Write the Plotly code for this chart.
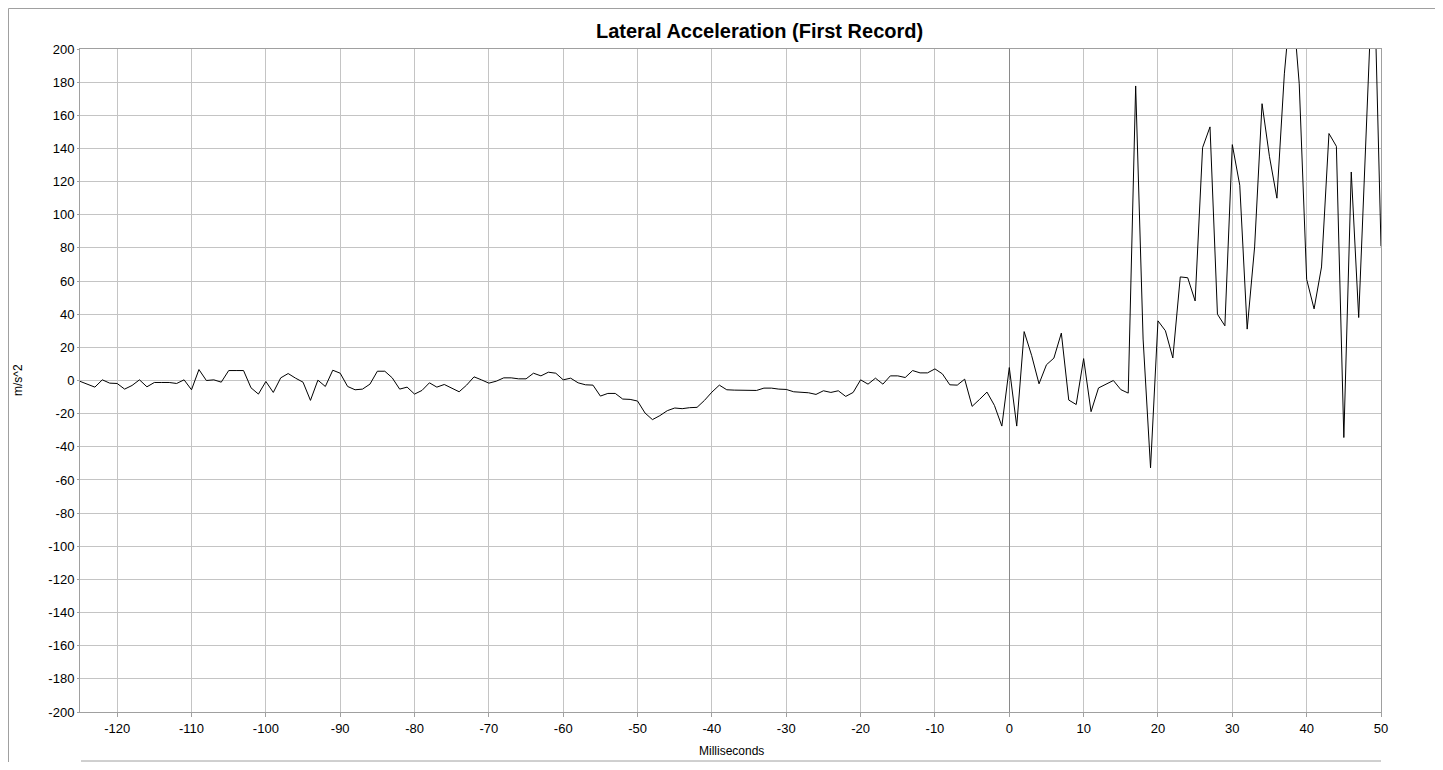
import plotly.graph_objects as go

# Time in milliseconds (1 ms sampling)
time_ms = list(range(-125, 51))

# Lateral acceleration (m/s^2)
accel = [
    -0.5, -2.4, -4, 0.4, -1.6, -1.8, -5.2, -3, 0.4, -3.8,
    -1.2, -1.2, -1.2, -1.8, 0.4, -5.6, 6.6, 0, 0.4, -1,
    6, 6, 6, -4.4, -8.2, -0.6, -7.2, 1.6, 4.2, 1.4,
    -1, -12, 0.2, -3.6, 6.2, 4.4, -3.6, -5.6, -5.2, -2.2,
    5.6, 5.6, 1.6, -5.2, -4, -8.2, -6, -1.4, -4, -2.4,
    -4.6, -6.8, -2.8, 2.2, 0.4, -1.6, -0.4, 1.6, 1.6, 1,
    1, 4.4, 2.8, 5, 4.4, 0.4, 1.4, -1.4, -2.6, -2.8,
    -9.4, -7.8, -7.8, -11.2, -11.4, -12.4, -19.6, -23.6, -21.2, -18.2,
    -16.6, -17, -16.4, -16.2, -12, -7, -2.8, -5.6, -5.8, -6,
    -5.8, -6, -4.6, -4.6, -5.2, -5.4, -6.8, -7, -7.4, -8.4,
    -6.2, -7.2, -6.2, -9.6, -7.2, 0.4, -2.2, 1.4, -2.2, 2.8,
    2.8, 1.8, 6, 4.6, 4.6, 7, 4, -2.6, -2.8, 0.8,
    -15.6, -11.4, -7, -15, -27.5, 7.8, -27.5, 29.5, 15.2, -2,
    9.5, 13.5, 28.6, -11.8, -14.5, 13.2, -18.8, -4.5, -2, 0,
    -5.5, -7.6, 177.7, 25, -52.7, 36, 30, 13.6, 62.5, 62,
    48, 140.5, 153, 40, 33, 142.3, 117.8, 31, 80.6, 167,
    135, 110, 185, 235, 179, 61, 43.2, 68.5, 149, 141.3,
    -34.4, 125.8, 38, 160, 260, 81,
]

# Tick labels (plain hyphen minus, as in the reference)
x_ticks = [-120, -110, -100, -90, -80, -70, -60, -50, -40, -30, -20, -10, 0, 10, 20, 30, 40, 50]
x_tick_labels = ["-120", "-110", "-100", "-90", "-80", "-70", "-60", "-50", "-40", "-30",
                 "-20", "-10", "0", "10", "20", "30", "40", "50"]
y_ticks = [200, 180, 160, 140, 120, 100, 80, 60, 40, 20, 0,
           -20, -40, -60, -80, -100, -120, -140, -160, -180, -200]
y_tick_labels = ["200", "180", "160", "140", "120", "100", "80", "60", "40", "20", "0",
                 "-20", "-40", "-60", "-80", "-100", "-120", "-140", "-160", "-180", "-200"]

title_text = "Lateral Acceleration (First Record)"
x_label = "Milliseconds"
y_label = "m/s^2"

OFF = 8  # page offset of the figure inside the browser window
W, H = 1443 - OFF, 770 - 2 * OFF
L, R, T = 80 - OFF, 62, 49 - OFF
B = H + OFF - 712
PW, PH = W - L - R, H - T - B


def px(x):
    return (x - OFF - L) / PW


def py(y):
    return (H - B - (y - OFF)) / PH


fig = go.Figure()
fig.add_trace(go.Scatter(
    x=time_ms, y=accel, mode="lines",
    line=dict(color="black", width=1),
    showlegend=False,
))

grid = "#c4c4c4"
axisline = "#a0a0a0"
font = "Liberation Sans, Arial, sans-serif"

fig.update_layout(
    width=W, height=H,
    margin=dict(l=L, r=R, t=T, b=B),
    paper_bgcolor="white", plot_bgcolor="white",
    font=dict(family=font, size=13, color="black"),
    xaxis=dict(
        range=[-125, 50], tickmode="array", tickvals=x_ticks, ticktext=x_tick_labels,
        showgrid=True, gridcolor=grid, gridwidth=1,
        zeroline=True, zerolinecolor="#8a8a8a", zerolinewidth=1,
        showline=True, linecolor=axisline, linewidth=1, mirror=True,
        ticks="outside", ticklen=4, tickcolor=axisline,
        tickfont=dict(size=13),
    ),
    yaxis=dict(
        range=[-200, 200], tickmode="array", tickvals=y_ticks, ticktext=y_tick_labels,
        showgrid=True, gridcolor=grid, gridwidth=1,
        zeroline=True, zerolinecolor=grid, zerolinewidth=1,
        showline=True, linecolor=axisline, linewidth=1, mirror=True,
        ticks="outside", ticklen=2, tickcolor=axisline,
        tickfont=dict(size=13),
    ),
    annotations=[
        dict(text="<b>" + title_text + "</b>", xref="paper", yref="paper",
             x=px(759), y=py(31), showarrow=False, xanchor="center", yanchor="middle",
             font=dict(size=20, family=font)),
        dict(text=x_label, xref="paper", yref="paper",
             x=px(731), y=py(751), showarrow=False, xanchor="center", yanchor="middle",
             font=dict(size=12, family=font)),
        dict(text=y_label, xref="paper", yref="paper", textangle=-90,
             x=px(18), y=py(380), showarrow=False, xanchor="center", yanchor="middle",
             font=dict(size=12, family=font)),
    ],
    shapes=[
        dict(type="line", xref="paper", yref="paper", x0=px(8.5), x1=px(1437), y0=py(8.5), y1=py(8.5),
             line=dict(color=axisline, width=1)),
        dict(type="line", xref="paper", yref="paper", x0=px(8.5), x1=px(8.5), y0=py(8.5), y1=py(770),
             line=dict(color=axisline, width=1)),
        dict(type="line", xref="paper", yref="paper", x0=px(1437), x1=px(1437), y0=py(8.5), y1=py(770),
             line=dict(color=axisline, width=1)),
        dict(type="line", xref="paper", yref="paper", x0=px(81), x1=px(1381), y0=py(761), y1=py(761),
             line=dict(color=axisline, width=1)),
    ],
)

fig.write_html("out.html")
